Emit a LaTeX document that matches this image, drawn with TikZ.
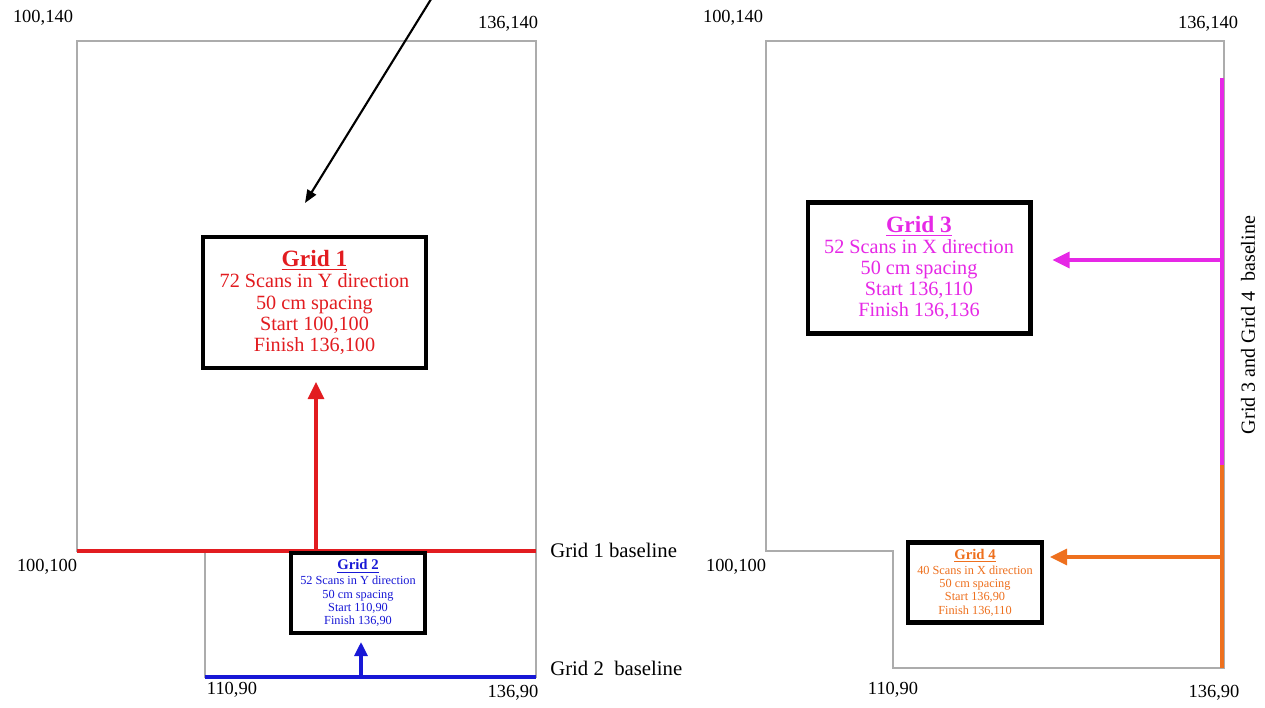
\documentclass[tikz,border=0pt]{standalone}
\usepackage{fontspec}
\setmainfont{Liberation Serif}
\usetikzlibrary{arrows.meta,positioning,calc}
\definecolor{gridred}{RGB}{226,28,32}
\definecolor{gridblue}{RGB}{24,24,214}
\definecolor{gridpink}{RGB}{230,40,230}
\definecolor{gridorange}{RGB}{238,112,30}
\newcommand{\gtitle}[1]{{\fontsize{13.3}{15}\selectfont\textbf{\underline{#1}}}}
\newcommand{\stitle}[1]{{\fontsize{8.4}{9}\selectfont\textbf{\underline{#1}}}}

\begin{document}
\begin{tikzpicture}[
  x=0.02cm, y=-0.02cm,
  >={Triangle[length=0.34cm,width=0.32cm]},
  every node/.style={font=\fontsize{10.5}{12}\selectfont},
  outline/.style={draw=gray!65, line width=0.6pt},
  baseln/.style={line width=2.3pt},
  shaft/.style={->, line width=1.8pt},
  bigbox/.style={draw, line width=2.3pt, fill=white, align=center,
                 minimum width=4.46cm, minimum height=2.62cm, inner sep=2pt,
                 font=\fontsize{11.5}{12}\selectfont},
  smallbox/.style={draw, line width=2.3pt, fill=white, align=center,
                   minimum width=2.68cm, minimum height=1.6cm, inner sep=1pt,
                   font=\fontsize{7}{7.6}\selectfont},
  corner/.style={inner sep=0pt},
  basetext/.style={inner sep=0pt, font=\fontsize{11.8}{13}\selectfont}
]
\useasboundingbox (0,0) rectangle (1265,707);
%% outlines of the two survey areas
\draw[outline] (77,41) -- (536,41) -- (536,677) -- (205,677) -- (205,551) -- (77,551) -- cycle;
\draw[outline] (766,41) -- (1224,41) -- (1224,668) -- (893,668) -- (893,551) -- (766,551) -- cycle;
%% baselines
\coordinate (b1l) at (77,551);   \coordinate (b1r) at (536,551);
\coordinate (b2l) at (205,677);  \coordinate (b2r) at (536,677);
\coordinate (b3t) at (1222,78);  \coordinate (b3b) at (1222,465);
\coordinate (b4b) at (1222,668);
\draw[baseln, gridred] (b1l) -- (b1r);
\draw[baseln, gridblue] (b2l) -- (b2r);
\draw[baseln, gridpink] (b3t) -- (b3b);
\draw[baseln, gridorange] (b3b) -- (b4b);
%% grid boxes
\node[bigbox, text=gridred] (g1) at (314.5,302.5)
  {\gtitle{Grid 1}\\72 Scans in Y direction\\50 cm spacing\\Start 100,100\\Finish 136,100};
\node[smallbox, text=gridblue] (g2) at (358,593)
  {\stitle{Grid 2}\\[1pt]52 Scans in Y direction\\50 cm spacing\\Start 110,90\\Finish 136,90};
\node[bigbox, text=gridpink] (g3) at (919,268)
  {\gtitle{Grid 3}\\52 Scans in X direction\\50 cm spacing\\Start 136,110\\Finish 136,136};
\node[smallbox, text=gridorange] (g4) at (975,582.5)
  {\stitle{Grid 4}\\[1pt]40 Scans in X direction\\50 cm spacing\\Start 136,90\\Finish 136,110};
%% scan direction arrows
\coordinate (t1) at (316,551);
\coordinate (t2) at (361,677);
\coordinate (t3) at (1222,260);
\coordinate (t4) at (1222,557);
\draw[shaft, gridred, shorten >=0.24cm] (t1) -- (t1 |- g1.south);
\draw[shaft, gridblue, >={Triangle[length=0.28cm,width=0.26cm]}, shorten >=0.14cm] (t2) -- (t2 |- g2.south);
\draw[shaft, gridpink, shorten >=0.4cm] (t3) -- (t3 -| g3.east);
\draw[shaft, gridorange, shorten >=0.12cm] (t4) -- (t4 -| g4.east);
%% pointer from above
\coordinate (ptr) at (433,-4);
\coordinate (ptrend) at (305,203);
\draw[->, line width=1.2pt, >={Triangle[length=0.26cm,width=0.2cm]}] (ptr) -- (ptrend);
%% corner labels, left
\node[corner] (c1) at (43,18) {100,140};
\node[corner] (c2) at (508,24) {136,140};
\node[corner] (c3) at (47,567) {100,100};
\node[corner] (c4) at (232,690) {110,90};
\node[corner] (c5) at (513,693) {136,90};
\node[basetext, anchor=west] (l1) at (550,550) {Grid 1 baseline};
\node[basetext, anchor=west] (l2) at (550,668) {Grid 2~ baseline};
%% corner labels, right
\node[corner] (c6) at (733,18) {100,140};
\node[corner] (c7) at (1208,24) {136,140};
\node[corner] (c8) at (736,567) {100,100};
\node[corner] (c9) at (893,690) {110,90};
\node[corner] (c10) at (1214,693) {136,90};
\node[basetext, rotate=90, font=\fontsize{11.4}{13}\selectfont] (l3) at (1248,325) {Grid 3 and Grid 4~ baseline};
\end{tikzpicture}
\end{document}
